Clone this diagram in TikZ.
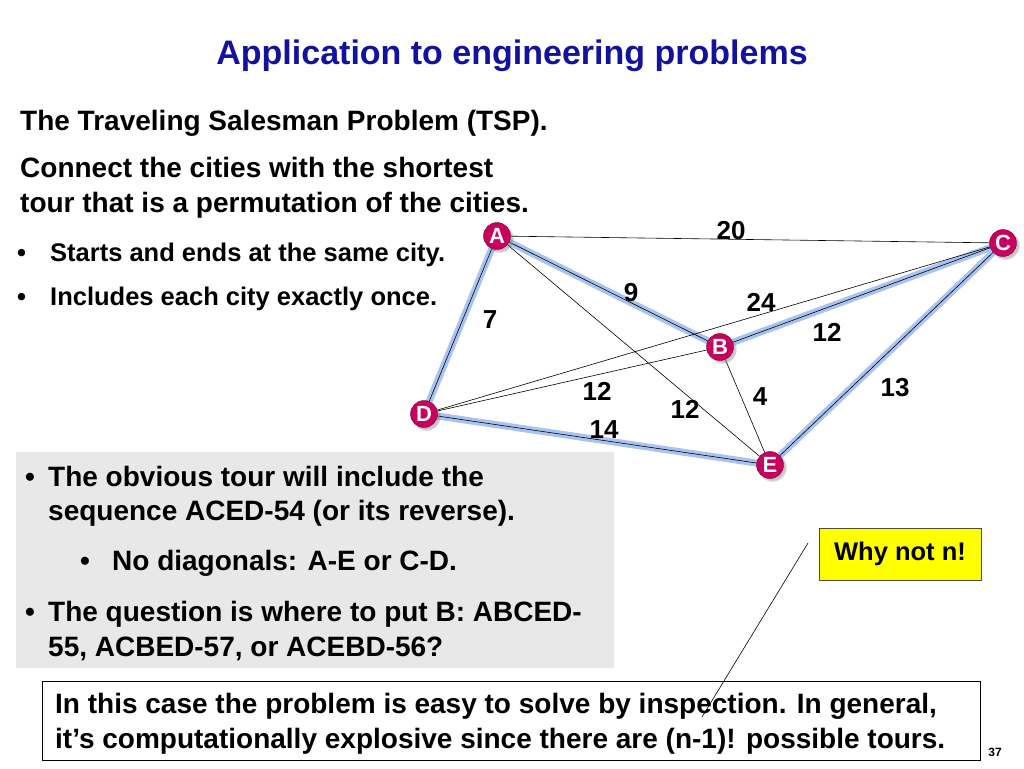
\documentclass[tikz,border=0pt]{standalone}
\usepackage{fontspec}
\setmainfont{Liberation Sans}
\usetikzlibrary{positioning,backgrounds,shadows}
\definecolor{tspblue}{HTML}{12129E}
\definecolor{tspcity}{HTML}{C8005E}
\definecolor{tsptour}{HTML}{A9C3F0}
\definecolor{tspgrey}{HTML}{E8E8E8}
\definecolor{tspyellow}{HTML}{FFFF00}

\begin{document}
\begin{tikzpicture}[x=1pt,y=-1pt,
  city/.style={circle,fill=tspcity,draw=tspcity!60!black,thin,minimum size=27pt,inner sep=0pt,
    font=\fontsize{22}{22}\selectfont\bfseries,text=white,
    circular drop shadow={shadow xshift=2pt,shadow yshift=-2pt,opacity=0.45}},
  road/.style={black,line width=0.6pt},
  tour/.style={tsptour,line width=7pt},
  wgt/.style={font=\fontsize{26}{26}\selectfont\bfseries,inner sep=0pt},
  txt/.style={anchor=base west,inner sep=0pt,font=\fontsize{#1}{#1}\selectfont\bfseries},
  txt/.default=28]
  \useasboundingbox (0,0) rectangle (1024,768);

  % slide text
  \node[txt=34,anchor=base,text=tspblue] (title) at (512,64) {Application to engineering problems};
  \node[txt] (tsp) at (20,130) {The Traveling Salesman Problem (TSP).};
  \node[txt] (goal1) at (20,177) {Connect the cities with the shortest};
  \node[txt] (goal2) at (20,212) {tour that is a permutation of the cities.};
  \node[txt=25.5] (dot1) at (17,261) {•};
  \node[txt=25.5] (rule1) at (50,261) {Starts and ends at the same city.};
  \node[txt=25.5] (dot2) at (17,305) {•};
  \node[txt=25.5] (rule2) at (50,305) {Includes each city exactly once.};

  % grey panel
  \node[fill=tspgrey,anchor=north west,minimum width=598pt,minimum height=216pt,inner sep=0pt] (panel) at (16,452) {};
  \node[txt] (pdot1) at (25,486) {•};
  \node[txt] (obv1) at (48,486) {The obvious tour will include the};
  \node[txt] (obv2) at (48,520) {sequence ACED-54 (or its reverse).};
  \node[txt] (pdot2) at (80,570) {•};
  \node[txt] (diag) at (112,570) {No diagonals: A-E or C-D.};
  \node[txt] (pdot3) at (25,621) {•};
  \node[txt] (quest1) at (48,621) {The question is where to put B: ABCED-};
  \node[txt] (quest2) at (48,656) {55, ACBED-57, or ACEBD-56?};

  % bottom box
  \node[draw=black,fill=white,anchor=north west,minimum width=938pt,minimum height=79pt,inner sep=0pt] (note) at (42,681) {};
  \node[txt] (note1) at (55,713) {In this case the problem is easy to solve by inspection. In general,};
  \node[txt] (note2) at (55,748) {it’s computationally explosive since there are (n-1)! possible tours.};

  % callout
  \node[draw=black!60!yellow!50!black,fill=tspyellow,minimum width=162pt,minimum height=52pt,inner sep=0pt,
    font=\fontsize{25.5}{25.5}\selectfont\bfseries] (why) at (900,554) {Why not n!};
  \coordinate (callA) at (808,543);
  \coordinate (callB) at (702,717);
  \draw[road] (callA) -- (callB);

  \node[font=\fontsize{12}{12}\selectfont\bfseries] (page) at (995,752) {37};

  % cities
  \node[city] (A) at (497,236) {A};
  \node[city] (B) at (720,347) {B};
  \node[city] (C) at (1003,243) {C};
  \node[city] (D) at (424,414) {D};
  \node[city] (E) at (770,465) {E};

  \begin{scope}[on background layer]
    \foreach \u/\v in {A/B,B/C,C/E,E/D,D/A} \draw[tour] (\u.center) -- (\v.center);
    \foreach \u/\v in {A/B,B/C,C/E,E/D,D/A,A/C,A/E,C/D,D/B,B/E} \draw[road] (\u) -- (\v);
  \end{scope}

  % distances
  \node[wgt] (wAC) at (731,231) {20};
  \node[wgt] (wAB) at (631,293) {9};
  \node[wgt] (wCD) at (761,302) {24};
  \node[wgt] (wBC) at (827,332) {12};
  \node[wgt] (wAD) at (490,320) {7};
  \node[wgt] (wBD) at (597,391) {12};
  \node[wgt] (wAE) at (685,409) {12};
  \node[wgt] (wBE) at (760,397) {4};
  \node[wgt] (wCE) at (895,388) {13};
  \node[wgt] (wDE) at (604,430) {14};
\end{tikzpicture}
\end{document}
